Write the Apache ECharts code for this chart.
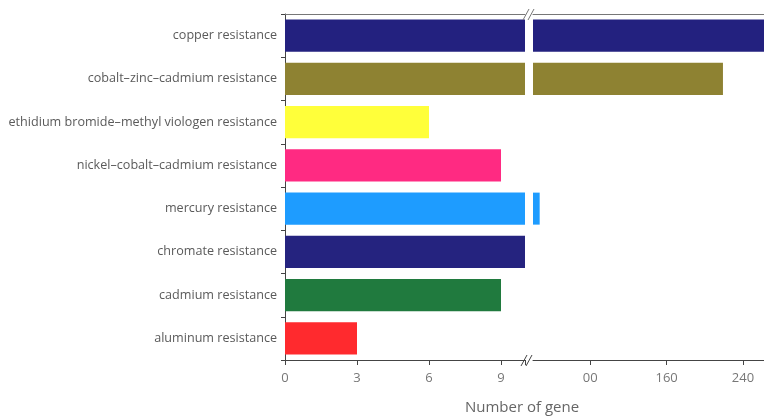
<!DOCTYPE html>
<html>
<head>
<meta charset="utf-8">
<script src="https://cdn.jsdelivr.net/npm/echarts@6/dist/echarts.min.js"></script>
<style>html,body{margin:0;padding:0;background:#fff}#c{width:764px;height:418px}</style>
</head>
<body>
<div id="c"></div>
<script>
const categories = [
  "copper resistance",
  "cobalt–zinc–cadmium resistance",
  "ethidium bromide–methyl viologen resistance",
  "nickel–cobalt–cadmium resistance",
  "mercury resistance",
  "chromate resistance",
  "cadmium resistance",
  "aluminum resistance"
];
const geneCounts = [270, 219, 6, 9, 27, 10, 9, 3];
const barColors = ["#23217f", "#8e8232", "#ffff3a", "#ff2a82", "#1e9cff", "#25237f", "#207a3e", "#ff2a2e"];
const lowTicks = [0, 3, 6, 9];
const highTickValues = [80, 160, 240];
const highTickLabels = ["00", "160", "240"];
const xTitle = "Number of gene";

const breakAt = 10;
const highMin = 20, highMax = 262;

const cats = categories.slice().reverse();
const vals = geneCounts.slice().reverse();
const cols = barColors.slice().reverse();

const lowData = vals.map((v, i) => ({ value: Math.min(v, breakAt), itemStyle: { color: cols[i] } }));
const highData = vals.map((v, i) => v > breakAt ? { value: v, itemStyle: { color: cols[i] } } : '-');

const axisColor = '#444';
const labelColor = '#5a5a5a';
const font = '"Open Sans", "Liberation Sans", Arial, sans-serif';

const chart = echarts.init(document.getElementById('c'), null, { renderer: 'canvas' });
chart.setOption({
  animation: false,
  grid: [
    { left: 285, top: 14, width: 240, height: 346 },
    { left: 533, top: 14, right: 0, height: 346 }
  ],
  xAxis: [
    {
      gridIndex: 0, type: 'value', min: 0, max: breakAt, interval: 3,
      axisLine: { show: true, lineStyle: { color: axisColor, width: 1 } },
      axisTick: { show: true, length: 5, lineStyle: { color: axisColor } },
      axisLabel: { color: '#777', fontSize: 13, fontFamily: font, margin: 12,
        formatter: v => lowTicks.indexOf(v) >= 0 ? String(v) : '' },
      splitLine: { show: false }
    },
    {
      gridIndex: 1, type: 'value', min: highMin, max: highMax,
      axisLine: { show: true, lineStyle: { color: axisColor, width: 1 } },
      axisTick: { show: true, length: 5, customValues: highTickValues, lineStyle: { color: axisColor } },
      axisLabel: { color: '#777', fontSize: 13, fontFamily: font, margin: 12, customValues: highTickValues,
        formatter: v => { const k = highTickValues.indexOf(v); return k >= 0 ? highTickLabels[k] : ''; } },
      splitLine: { show: false }
    },
    {
      gridIndex: 0, type: 'value', position: 'top', min: 0, max: breakAt,
      axisLine: { show: true, lineStyle: { color: '#777', width: 1 } },
      axisTick: { show: false }, axisLabel: { show: false }, splitLine: { show: false }
    },
    {
      gridIndex: 1, type: 'value', position: 'top', min: highMin, max: highMax,
      axisLine: { show: true, lineStyle: { color: '#777', width: 1 } },
      axisTick: { show: false }, axisLabel: { show: false }, splitLine: { show: false }
    }
  ],
  yAxis: [
    {
      gridIndex: 0, type: 'category', data: cats,
      axisLine: { show: true, lineStyle: { color: axisColor, width: 1 } },
      axisTick: { show: true, length: 4, lineStyle: { color: axisColor } },
      axisLabel: { color: labelColor, fontSize: 12.6, fontFamily: font, margin: 8 }
    },
    {
      gridIndex: 1, type: 'category', data: cats,
      axisLine: { show: false }, axisTick: { show: false }, axisLabel: { show: false }
    }
  ],
  series: [
    { type: 'bar', xAxisIndex: 0, yAxisIndex: 0, data: lowData, barWidth: '74%' },
    { type: 'bar', xAxisIndex: 1, yAxisIndex: 1, data: highData, barWidth: '74%' }
  ],
  graphic: [
    { type: 'rect', shape: { x: 526, y: 8, width: 6, height: 356 }, style: { fill: '#fff' }, z: 100 },
    { type: 'line', shape: { x1: 521, y1: 366, x2: 527, y2: 355 }, style: { stroke: '#444', lineWidth: 1 }, z: 101 },
    { type: 'line', shape: { x1: 526, y1: 366, x2: 532, y2: 355 }, style: { stroke: '#444', lineWidth: 1 }, z: 101 },
    { type: 'line', shape: { x1: 523, y1: 20, x2: 529, y2: 9 }, style: { stroke: '#777', lineWidth: 1 }, z: 101 },
    { type: 'line', shape: { x1: 528, y1: 20, x2: 534, y2: 9 }, style: { stroke: '#777', lineWidth: 1 }, z: 101 },
    { type: 'text', x: 522, y: 408, style: { text: xTitle, fill: '#666', fontSize: 15, fontFamily: font, textAlign: 'center', textVerticalAlign: 'middle' }, z: 101 }
  ]
});
</script>
</body>
</html>
